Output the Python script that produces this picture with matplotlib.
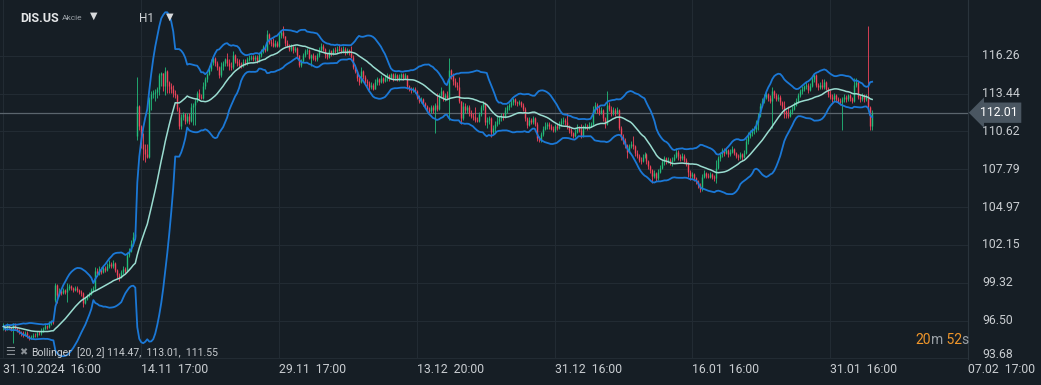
import matplotlib
matplotlib.use("Agg")
import matplotlib.pyplot as plt
import numpy as np
import pandas as pd

# --- Données (DIS.US, bougies H1) ---
premier_open = 96.00
gaps_open = {26: 98.00, 67: 110.30}  # barres ouvertes en gap (élection, résultats)

clotures = [
    96.05, 95.90, 96.10, 95.95, 95.85, 96.15, 95.95, 95.80, 95.65, 95.55,
    95.45, 95.60, 95.35, 95.20, 95.30, 95.45, 95.40, 95.60, 95.55, 95.75,
    95.90, 96.10, 96.05, 96.30, 96.45, 96.40, 99.15, 98.40, 98.70, 98.55,
    98.75, 98.60, 98.95, 99.05, 98.90, 98.80, 98.95, 98.75, 98.60, 98.55,
    97.80, 98.10, 98.35, 98.50, 98.75, 98.95, 100.20, 100.00, 100.35, 100.15,
    100.45, 100.30, 100.60, 100.75, 100.55, 100.80, 100.25, 99.90, 99.75, 100.10,
    100.35, 100.20, 101.40, 101.70, 102.20, 102.75, 102.95, 112.50, 111.00, 109.70,
    109.30, 108.90, 108.70, 113.00, 113.40, 113.50, 113.55, 113.75, 114.80, 114.95,
    114.00, 115.10, 114.30, 114.00, 113.80, 113.50, 113.30, 112.30, 111.00, 111.70,
    111.90, 111.40, 111.80, 111.40, 112.40, 112.60, 112.90, 113.50, 113.20, 113.10,
    114.00, 114.50, 114.90, 115.30, 115.80, 116.10, 115.70, 115.40, 114.80, 115.50,
    115.70, 116.00, 115.70, 115.50, 115.40, 116.30, 115.90, 115.70, 115.60, 115.50,
    115.80, 115.70, 116.00, 116.10, 116.20, 116.00, 116.20, 115.90, 116.30, 116.60,
    116.90, 116.70, 117.90, 117.30, 117.20, 117.00, 117.20, 117.00, 117.80, 118.00,
    117.70, 117.20, 117.00, 116.80, 116.95, 116.70, 116.85, 116.30, 115.60, 115.90,
    116.30, 116.60, 116.70, 116.10, 116.30, 116.10, 116.00, 116.30, 116.70, 117.00,
    116.80, 116.40, 116.20, 116.60, 116.40, 116.70, 116.60, 116.80, 116.70, 116.60,
    116.80, 116.50, 116.70, 116.50, 116.20, 115.40, 115.10, 114.60, 114.30, 115.10,
    114.70, 114.40, 114.20, 113.90, 114.10, 113.80, 114.30, 114.50, 114.30, 114.60,
    114.40, 114.60, 114.80, 114.60, 114.90, 114.60, 114.80, 114.50, 114.70, 114.90,
    114.60, 114.80, 114.00, 113.80, 113.70, 113.80, 113.60, 113.20, 112.90, 113.00,
    112.70, 112.50, 112.30, 112.10, 112.40, 112.20, 112.60, 112.30, 113.30, 113.60,
    113.00, 113.30, 113.10, 115.20, 114.80, 114.40, 114.10, 113.90, 112.90, 111.60,
    112.50, 112.20, 112.40, 112.00, 111.80, 111.70, 111.50, 111.40, 111.90, 112.40,
    112.70, 111.30, 111.50, 111.60, 110.60, 110.90, 111.20, 111.40, 111.60, 111.80,
    111.70, 112.20, 112.40, 112.60, 112.80, 113.00, 112.80, 112.70, 112.80, 112.60,
    112.30, 111.60, 111.10, 111.50, 111.30, 111.60, 111.20, 110.10, 109.95, 110.40,
    110.80, 111.00, 111.20, 111.00, 110.80, 110.70, 111.00, 110.90, 111.20, 111.40,
    111.50, 111.30, 111.00, 110.70, 110.50, 110.30, 110.60, 110.90, 110.70, 110.30,
    110.90, 111.00, 110.90, 111.10, 111.20, 112.20, 112.60, 112.20, 112.00, 112.20,
    111.60, 111.20, 112.60, 112.30, 112.00, 112.20, 112.00, 112.20, 110.90, 110.20,
    109.90, 109.60, 109.10, 109.50, 109.70, 109.50, 109.00, 108.80, 108.50, 108.40,
    108.70, 108.90, 108.40, 108.00, 107.70, 107.30, 107.50, 107.10, 107.60, 107.90,
    108.30, 108.60, 108.40, 108.50, 108.30, 108.50, 108.70, 109.10, 108.80, 108.60,
    108.80, 108.50, 108.20, 107.60, 107.30, 107.40, 107.10, 106.90, 106.60, 106.30,
    107.20, 107.50, 107.30, 107.20, 107.40, 107.20, 107.10, 107.90, 108.60, 108.90,
    109.20, 109.00, 109.20, 108.90, 109.10, 109.30, 109.00, 108.80, 108.70, 108.90,
    108.70, 109.00, 109.90, 110.30, 110.50, 110.70, 110.80, 111.30, 111.80, 112.50,
    112.90, 113.20, 113.40, 113.10, 112.90, 113.60, 113.30, 113.00, 113.20, 112.80,
    112.50, 112.10, 111.90, 111.80, 112.10, 112.30, 112.60, 112.90, 113.30, 113.60,
    113.80, 114.00, 114.10, 113.70, 114.00, 114.50, 114.80, 114.10, 113.90, 114.10,
    113.90, 114.30, 113.80, 113.40, 113.20, 113.00, 113.30, 113.00, 112.90, 112.80,
    113.00, 113.20, 113.00, 113.30, 113.10, 112.90, 114.10, 114.30, 113.20, 113.00,
    113.30, 113.00, 113.20, 112.40, 111.00, 112.01,
]

plus_hauts = [
    96.30, 96.20, 96.35, 96.20, 96.05, 96.30, 96.30, 96.05, 95.90, 95.75,
    95.70, 95.75, 95.70, 95.40, 95.45, 95.55, 95.60, 95.70, 95.70, 95.95,
    96.05, 96.25, 96.20, 96.45, 96.55, 96.55, 99.30, 99.20, 98.90, 98.85,
    98.90, 98.85, 99.30, 99.20, 99.15, 99.00, 99.10, 99.05, 98.85, 98.75,
    98.60, 98.25, 98.50, 98.65, 98.90, 99.10, 100.50, 100.40, 100.60, 100.50,
    100.60, 100.60, 100.80, 101.00, 100.85, 101.00, 100.90, 100.35, 100.05, 100.30,
    100.60, 100.50, 101.60, 101.90, 102.50, 103.10, 103.20, 114.70, 112.60, 111.10,
    110.50, 109.70, 109.70, 113.20, 113.60, 113.70, 113.75, 113.90, 115.00, 115.05,
    115.00, 115.40, 115.20, 114.40, 114.20, 114.10, 113.70, 113.40, 112.40, 111.90,
    112.05, 112.00, 112.00, 112.00, 112.70, 112.75, 113.00, 113.60, 113.80, 113.40,
    114.30, 114.70, 115.00, 115.50, 116.00, 116.20, 116.20, 115.90, 115.50, 115.80,
    115.90, 116.10, 116.50, 116.00, 115.80, 116.60, 116.40, 116.10, 116.00, 115.80,
    116.00, 116.00, 116.20, 116.30, 116.35, 116.30, 116.35, 116.30, 116.45, 116.80,
    117.05, 117.00, 118.20, 117.95, 117.50, 117.60, 117.40, 117.35, 118.00, 118.20,
    118.50, 117.75, 117.40, 117.10, 117.10, 117.00, 117.00, 116.90, 116.35, 116.00,
    116.45, 116.80, 116.85, 116.75, 116.40, 116.50, 116.35, 116.50, 116.90, 117.20,
    117.10, 116.85, 116.50, 116.75, 116.70, 116.85, 116.90, 116.95, 117.10, 116.90,
    116.95, 116.90, 116.85, 116.80, 117.00, 116.30, 115.60, 115.20, 114.80, 115.40,
    115.20, 114.80, 114.50, 114.40, 114.30, 114.20, 114.50, 114.70, 114.60, 114.80,
    114.70, 114.80, 115.00, 114.90, 115.00, 115.00, 114.95, 114.90, 114.90, 115.00,
    115.00, 115.00, 114.85, 114.10, 113.95, 113.95, 113.90, 113.70, 113.30, 113.20,
    113.10, 112.80, 112.60, 112.45, 112.60, 112.55, 112.70, 113.50, 113.50, 113.90,
    113.70, 113.50, 113.60, 116.10, 115.30, 115.00, 114.60, 114.30, 114.70, 112.90,
    112.80, 112.70, 112.60, 112.55, 112.20, 112.00, 112.40, 111.70, 112.05, 112.60,
    112.90, 112.80, 111.70, 111.75, 111.70, 111.10, 111.40, 111.80, 111.80, 112.00,
    112.00, 112.40, 112.60, 112.70, 113.00, 113.10, 113.10, 112.90, 112.95, 112.90,
    112.70, 112.40, 111.70, 111.70, 111.65, 111.75, 111.70, 111.30, 110.30, 110.60,
    111.00, 111.30, 111.30, 111.30, 111.15, 111.00, 111.20, 111.15, 111.40, 111.60,
    111.70, 111.60, 112.00, 111.10, 110.85, 110.60, 110.80, 111.20, 111.00, 111.20,
    111.10, 111.25, 111.20, 111.30, 111.35, 112.50, 112.80, 112.70, 112.50, 112.40,
    112.30, 111.70, 113.60, 112.80, 112.50, 112.40, 112.35, 112.40, 112.30, 111.00,
    110.40, 110.10, 109.70, 109.70, 109.90, 110.30, 109.60, 109.20, 108.90, 108.70,
    108.90, 109.10, 109.00, 108.50, 108.10, 107.80, 107.70, 107.60, 107.80, 108.10,
    108.50, 108.80, 108.70, 108.70, 108.60, 108.70, 108.90, 109.40, 109.20, 108.90,
    109.00, 108.90, 108.60, 108.30, 107.70, 107.55, 107.50, 107.20, 107.00, 106.80,
    107.40, 107.70, 107.60, 107.50, 107.55, 107.50, 107.35, 108.50, 108.80, 109.10,
    109.40, 109.35, 109.40, 109.30, 109.30, 109.50, 109.40, 109.10, 108.95, 109.10,
    109.00, 109.20, 110.10, 110.60, 110.70, 110.90, 111.00, 111.50, 112.00, 112.70,
    113.10, 113.40, 113.60, 113.50, 113.30, 113.90, 113.70, 113.50, 113.40, 113.30,
    112.90, 112.90, 112.20, 112.50, 112.30, 112.50, 112.80, 113.10, 113.50, 113.80,
    114.00, 114.10, 114.30, 114.20, 114.20, 114.70, 115.00, 114.90, 114.20, 114.30,
    114.50, 114.50, 114.40, 113.90, 113.70, 113.40, 113.50, 113.40, 113.20, 113.10,
    113.20, 113.40, 113.30, 113.40, 113.40, 113.20, 114.60, 114.60, 114.40, 113.40,
    113.50, 113.40, 113.40, 118.50, 112.50, 112.20,
]

plus_bas = [
    95.80, 95.75, 95.80, 95.85, 95.70, 94.80, 95.85, 95.65, 95.50, 95.35,
    95.30, 95.35, 95.20, 95.05, 95.10, 95.20, 95.25, 95.30, 95.40, 95.45,
    95.65, 95.85, 95.90, 95.95, 96.20, 96.25, 97.90, 97.80, 98.30, 98.40,
    98.45, 98.45, 97.90, 98.80, 98.75, 98.65, 98.70, 98.60, 98.45, 98.35,
    97.50, 97.70, 98.00, 98.25, 98.40, 98.60, 98.80, 99.80, 99.90, 100.00,
    100.05, 100.15, 100.20, 100.45, 100.40, 100.45, 100.10, 99.70, 99.45, 99.65,
    99.95, 100.05, 100.10, 101.25, 101.60, 102.05, 102.60, 110.00, 110.70, 109.40,
    108.50, 108.30, 108.60, 108.60, 112.20, 113.10, 112.90, 113.10, 113.30, 114.00,
    113.60, 113.30, 113.50, 113.50, 113.50, 113.20, 113.10, 112.10, 110.80, 110.80,
    111.50, 111.20, 111.25, 111.20, 111.30, 111.10, 111.10, 112.80, 113.00, 113.00,
    113.00, 113.80, 114.30, 114.80, 115.10, 115.60, 115.50, 115.20, 114.60, 114.70,
    115.20, 115.50, 115.50, 115.20, 115.20, 115.30, 115.70, 115.50, 115.40, 115.35,
    115.40, 115.55, 115.60, 115.85, 115.95, 115.85, 115.90, 115.75, 115.80, 116.20,
    116.50, 116.55, 116.60, 117.10, 117.00, 116.90, 116.90, 116.90, 116.90, 117.60,
    117.60, 117.00, 116.90, 116.60, 116.60, 116.50, 116.55, 116.10, 115.40, 115.45,
    115.80, 116.20, 116.40, 116.00, 115.50, 115.95, 115.90, 115.90, 116.20, 116.60,
    116.60, 116.10, 116.00, 116.10, 116.25, 116.30, 116.45, 116.50, 116.60, 116.50,
    116.50, 116.35, 116.40, 116.30, 116.10, 115.30, 115.00, 114.40, 114.10, 114.20,
    114.50, 114.20, 114.00, 113.70, 113.75, 113.70, 113.75, 114.10, 114.10, 114.20,
    114.20, 114.30, 114.40, 114.40, 114.50, 114.40, 114.45, 114.35, 114.35, 114.55,
    114.45, 114.50, 113.80, 113.60, 113.50, 113.55, 113.45, 113.00, 112.70, 112.75,
    112.50, 112.35, 112.10, 112.00, 112.00, 112.00, 110.50, 112.10, 112.20, 113.10,
    112.85, 112.90, 113.00, 111.50, 114.50, 114.10, 113.90, 113.70, 112.70, 111.20,
    111.50, 112.00, 112.00, 111.80, 111.60, 111.50, 111.30, 111.30, 111.30, 111.80,
    112.20, 111.10, 110.90, 111.20, 110.20, 110.40, 110.60, 111.00, 111.20, 111.40,
    111.50, 111.60, 112.00, 112.20, 112.40, 112.60, 112.60, 112.50, 112.55, 112.45,
    112.10, 111.40, 110.90, 111.00, 111.15, 111.20, 111.05, 109.90, 109.80, 109.85,
    110.30, 110.70, 110.80, 110.80, 110.70, 110.55, 110.60, 110.75, 110.80, 111.00,
    111.20, 111.10, 110.80, 110.50, 110.30, 110.10, 110.20, 110.50, 110.55, 110.10,
    110.20, 110.80, 110.75, 110.80, 110.95, 111.10, 112.00, 112.00, 111.85, 111.90,
    111.40, 110.90, 111.10, 112.10, 111.80, 111.85, 111.80, 111.90, 110.70, 110.00,
    109.70, 109.40, 108.60, 109.00, 109.40, 109.30, 108.80, 108.60, 108.30, 108.20,
    108.30, 108.60, 108.20, 107.80, 107.50, 106.80, 107.10, 106.90, 107.00, 107.50,
    107.80, 108.10, 108.20, 108.25, 108.10, 108.00, 108.40, 108.60, 108.50, 108.40,
    108.50, 108.30, 108.00, 107.20, 107.00, 107.10, 106.90, 106.70, 106.40, 106.10,
    106.20, 107.10, 107.10, 107.10, 107.10, 107.05, 106.95, 106.80, 107.80, 108.40,
    108.70, 108.80, 108.90, 108.70, 108.80, 109.00, 108.85, 108.65, 108.50, 108.55,
    108.50, 108.60, 108.90, 109.70, 110.10, 110.30, 110.40, 110.60, 110.70, 111.70,
    112.40, 112.70, 113.00, 112.90, 112.70, 110.90, 113.10, 112.85, 112.90, 112.60,
    112.30, 111.60, 111.60, 111.60, 111.70, 111.90, 112.20, 112.50, 112.70, 113.20,
    113.40, 113.60, 113.80, 113.50, 113.60, 113.90, 114.30, 113.90, 113.70, 113.75,
    113.80, 113.80, 113.70, 113.20, 113.00, 112.80, 112.90, 112.80, 112.70, 112.60,
    110.70, 112.80, 112.80, 112.90, 112.90, 112.70, 112.80, 113.90, 113.00, 112.80,
    112.90, 112.80, 112.90, 112.20, 110.70, 110.70,
]

dates_ticks = [0, 69, 138, 207, 276, 345, 414, 483]
dates_labels = ["31.10.2024  16:00", "14.11  17:00", "29.11  17:00", "13.12  20:00",
                "31.12  16:00", "16.01  16:00", "31.01  16:00", "07.02  17:00"]
prix_ticks = [93.68, 96.50, 99.32, 102.15, 104.97, 107.79, 110.62, 113.44, 116.26]
dernier_prix = 112.01
bollinger_texte = "[20, 2] 114.47,  113.01,  111.55"
compte_rebours = [("20", "o"), ("m", "g"), (" 52", "o"), ("s", "g")]

assert len(clotures) == len(plus_hauts) == len(plus_bas)

# --- Couleurs ---
FOND = "#161e25"
GRILLE = "#222b33"
TEXTE = "#c9cdd1"
VERT = "#22bd7b"
ROUGE = "#f2445b"
BANDE = "#1b78d6"
MOYENNE = "#9adcd0"
ORANGE = "#f0962a"
GRIS = "#9aa0a6"

plt.rcParams["font.family"] = ["Roboto", "DejaVu Sans"]

# Ouvertures : clôture précédente, sauf barres en gap
ouvertures = [premier_open] + clotures[:-1]
for i, v in gaps_open.items():
    ouvertures[i] = v

o = np.array(ouvertures)
c = np.array(clotures)
h = np.array(plus_hauts)
b = np.array(plus_bas)
x = np.arange(len(c))
couleurs = np.where(c >= o, VERT, ROUGE)

# Bandes de Bollinger (20, 2)
s = pd.Series(c)
moy = s.rolling(20, min_periods=1).mean()
ecart = s.rolling(20, min_periods=1).std(ddof=0).fillna(0)
haut_bb = moy + 2 * ecart
bas_bb = moy - 2 * ecart

fig = plt.figure(figsize=(10.41, 3.85), dpi=100, facecolor=FOND)
ax = fig.add_axes([0, 26 / 385, 968 / 1041, 359 / 385], facecolor=FOND)

# décalage d'un demi-pixel pour que chaque bougie tombe au centre d'un pixel
ax.set_xlim(-1.75, 482.25)
ax.set_ylim(93.63, 120.42)

# Grille
ax.set_yticks(prix_ticks)
ax.set_yticklabels([])
ax.set_xticks(dates_ticks)
ax.set_xticklabels(dates_labels, ha="left", color=TEXTE, fontsize=8.8)
ax.tick_params(axis="both", length=0)
ax.tick_params(axis="x", pad=3)
ax.grid(True, color=GRILLE, lw=0.8)
ax.set_axisbelow(True)
for nom, spine in ax.spines.items():
    spine.set_visible(nom == "right")
ax.spines["right"].set_color("#2a343c")

# Bougies (mèches fines, corps un peu plus larges)
ax.vlines(x, b, h, colors=couleurs, lw=0.6, zorder=3)
ax.vlines(x, np.minimum(o, c), np.maximum(o, c), colors=couleurs, lw=1.0, zorder=3)

# Bollinger
ax.plot(x, haut_bb, color=BANDE, lw=1.3, zorder=4)
ax.plot(x, bas_bb, color=BANDE, lw=1.3, zorder=4)
ax.plot(x, moy, color=MOYENNE, lw=1.1, zorder=4)

# Ligne du dernier prix
ax.axhline(dernier_prix, color="#5b656d", lw=0.9, zorder=2)

# Étiquettes de prix à droite
tr = ax.get_yaxis_transform()
for p in prix_ticks:
    decal = 0.3 if p == prix_ticks[0] else 0
    ax.text(982 / 968, p + decal, f"{p:.2f}", transform=tr, ha="left", va="center",
            color=TEXTE, fontsize=8.8, clip_on=False)
ax.text(980 / 968, dernier_prix, f"{dernier_prix:.2f}", transform=tr, ha="left",
        va="center", color="white", fontsize=8.8, clip_on=False, zorder=6,
        bbox=dict(boxstyle="larrow,pad=0.3", fc="#4a5661", ec="none"))

# En-tête
fig.text(20 / 1041, 1 - 18 / 385, "DIS.US", color="#e4e6e8", fontsize=9,
         weight="bold", va="center")
fig.text(62 / 1041, 1 - 18 / 385, "Akcie", color="#9aa1a7", fontsize=6,
         va="center")
fig.text(94 / 1041, 1 - 16 / 385, "▼", color="#d8dadc", fontsize=7,
         va="center", ha="center", family="DejaVu Sans")
fig.text(139 / 1041, 1 - 19 / 385, "H1", color="#d0d3d6", fontsize=8.5,
         va="center")
fig.text(170 / 1041, 1 - 17 / 385, "▼", color="#d8dadc", fontsize=7,
         va="center", ha="center", family="DejaVu Sans")

# Légende Bollinger en bas à gauche
fig.text(5 / 1041, 1 - 352 / 385, "☰", color="#8a9096", fontsize=8,
         va="center", family="DejaVu Sans")
fig.text(19 / 1041, 1 - 352 / 385, "✖", color="#8a9096", fontsize=7,
         va="center", family="DejaVu Sans")
fig.text(31 / 1041, 1 - 353 / 385, "Bollinger", color=TEXTE, fontsize=7.5,
         va="center")
fig.text(77 / 1041, 1 - 353 / 385, bollinger_texte, color=TEXTE, fontsize=7.5,
         va="center")

# Compte à rebours de la bougie : morceaux posés l'un après l'autre
rendu = fig.canvas.get_renderer()
xpos = 915
for txt, coul in compte_rebours:
    t = fig.text(xpos / 1041, 1 - 340 / 385, txt, fontsize=10, va="center",
                 color=ORANGE if coul == "o" else GRIS)
    xpos += t.get_window_extent(renderer=rendu).width

fig.savefig("out.png", dpi=100, facecolor=FOND)
